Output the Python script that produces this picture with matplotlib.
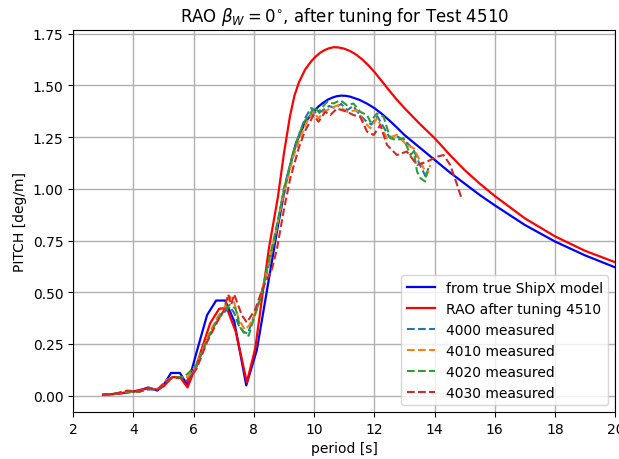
import matplotlib
matplotlib.use("Agg")
import matplotlib.pyplot as plt

# ShipX model RAO (pitch) vs period
shipx_T = [3.0, 3.5, 4.0, 4.3, 4.5, 4.8, 5.0, 5.25, 5.55, 5.8, 6.1, 6.45, 6.75, 7.05,
           7.35, 7.75, 8.1, 8.45, 8.8, 9.1, 9.4, 9.7, 10.0, 10.15, 10.3, 10.45,
           10.6, 10.75, 10.9, 11.05, 11.2, 11.5, 11.75, 12.0, 12.25, 12.5, 12.75,
           13.0, 13.5, 14.0, 14.5, 15.0, 15.5, 16.0, 17.0, 18.0, 19.0, 20.0]
shipx = [0.005, 0.01, 0.02, 0.03, 0.04, 0.025, 0.05, 0.11, 0.11, 0.05, 0.21, 0.39,
         0.46, 0.46, 0.36, 0.05, 0.22, 0.52, 0.82, 1.05, 1.22, 1.32, 1.375, 1.398,
         1.415, 1.43, 1.44, 1.447, 1.45, 1.449, 1.445, 1.43, 1.412, 1.39, 1.362,
         1.33, 1.296, 1.26, 1.20, 1.14, 1.08, 1.025, 0.97, 0.92, 0.825, 0.745,
         0.678, 0.62]

# RAO after tuning
rao_T = [3.0, 3.5, 4.0, 4.3, 4.5, 4.8, 5.0, 5.3, 5.55, 5.8, 6.1, 6.55, 6.85, 7.1,
         7.4, 7.77, 8.05, 8.3, 8.5, 8.8, 9.0, 9.2, 9.35, 9.5, 9.7, 9.9, 10.05,
         10.2, 10.35, 10.5, 10.65, 10.8, 11.0, 11.2, 11.4, 11.6, 11.8, 12.0, 12.25,
         12.5, 12.75, 13.0, 13.5, 14.0, 14.5, 15.0, 15.5, 16.0, 17.0, 18.0, 19.0,
         20.0]
rao = [0.005, 0.01, 0.02, 0.03, 0.035, 0.03, 0.045, 0.09, 0.09, 0.04, 0.15, 0.35,
       0.42, 0.425, 0.31, 0.065, 0.23, 0.50, 0.71, 0.96, 1.17, 1.35, 1.45, 1.515,
       1.575, 1.615, 1.638, 1.657, 1.67, 1.679, 1.684, 1.683, 1.677, 1.665, 1.648,
       1.625, 1.597, 1.565, 1.52, 1.474, 1.43, 1.39, 1.315, 1.245, 1.165, 1.09,
       1.025, 0.965, 0.857, 0.77, 0.70, 0.645]

# measured tests
m4000_T = [3.0, 3.4, 3.8, 4.2, 4.5, 4.8, 5.1, 5.3, 5.6, 5.8, 6.1, 6.45, 6.8, 7.0,
           7.2, 7.35, 7.5, 7.65, 7.8, 7.95, 8.2, 8.45, 8.7, 9.0, 9.3, 9.5, 9.7,
           9.9, 10.1, 10.3, 10.5, 10.7, 10.9, 11.1, 11.3, 11.5, 11.7, 11.9, 12.1,
           12.3, 12.5, 12.8, 13.1, 13.3, 13.5, 13.7, 13.8]
m4000 = [0.005, 0.01, 0.02, 0.02, 0.03, 0.03, 0.07, 0.085, 0.085, 0.08, 0.14, 0.27,
         0.37, 0.40, 0.43, 0.40, 0.34, 0.31, 0.30, 0.36, 0.46, 0.60, 0.76, 1.00,
         1.17, 1.26, 1.34, 1.39, 1.36, 1.38, 1.40, 1.39, 1.41, 1.38, 1.40, 1.36,
         1.33, 1.31, 1.35, 1.30, 1.25, 1.25, 1.22, 1.19, 1.12, 1.06, 1.10]

m4010_T = [3.0, 3.4, 3.8, 4.2, 4.5, 4.8, 5.1, 5.3, 5.6, 5.8, 6.1, 6.45, 6.8, 7.0,
           7.2, 7.35, 7.5, 7.7, 7.85, 8.0, 8.2, 8.45, 8.7, 9.0, 9.3, 9.55, 9.75,
           9.98, 10.15, 10.32, 10.54, 10.8, 11.09, 11.42, 11.65, 11.87, 12.09,
           12.42, 12.75, 13.08, 13.31, 13.53, 13.75, 13.86]
m4010 = [0.005, 0.01, 0.02, 0.02, 0.035, 0.03, 0.075, 0.09, 0.09, 0.09, 0.15, 0.28,
         0.38, 0.42, 0.48, 0.45, 0.37, 0.32, 0.34, 0.38, 0.47, 0.61, 0.77, 0.98,
         1.15, 1.25, 1.32, 1.372, 1.34, 1.372, 1.388, 1.404, 1.372, 1.38, 1.324,
         1.292, 1.34, 1.244, 1.26, 1.212, 1.196, 1.131, 1.067, 1.115]

m4020_T = [3.0, 3.4, 3.8, 4.2, 4.5, 4.8, 5.1, 5.3, 5.6, 5.8, 6.1, 6.45, 6.8, 7.0,
           7.2, 7.4, 7.55, 7.7, 7.83, 7.95, 8.2, 8.45, 8.7, 8.9, 9.04, 9.32, 9.54,
           9.7, 9.87, 9.98, 10.15, 10.43, 10.65, 10.87, 11.09, 11.31, 11.53, 11.76,
           11.87, 12.09, 12.31, 12.53, 12.75, 12.97, 13.2, 13.31, 13.42, 13.53,
           13.69, 13.75]
m4020 = [0.005, 0.01, 0.02, 0.02, 0.035, 0.03, 0.07, 0.09, 0.09, 0.105, 0.15, 0.27,
         0.37, 0.41, 0.44, 0.42, 0.33, 0.30, 0.29, 0.35, 0.46, 0.62, 0.78, 0.92,
         1.02, 1.18, 1.276, 1.33, 1.356, 1.396, 1.372, 1.42, 1.412, 1.428, 1.404,
         1.412, 1.372, 1.356, 1.324, 1.364, 1.348, 1.244, 1.236, 1.244, 1.163,
         1.18, 1.083, 1.051, 1.035, 1.083]

m4030_T = [3.0, 3.4, 3.8, 4.2, 4.5, 4.8, 5.1, 5.3, 5.6, 5.8, 6.1, 6.45, 6.8, 7.0,
           7.15, 7.25, 7.35, 7.45, 7.6, 7.77, 8.05, 8.3, 8.6, 8.77, 9.0, 9.21, 9.5,
           9.7, 9.87, 9.98, 10.15, 10.37, 10.54, 10.76, 11.09, 11.31, 11.53, 11.76,
           11.98, 12.2, 12.42, 12.75, 13.08, 13.42, 13.75, 14.08, 14.3, 14.52,
           14.75, 14.91]
m4030 = [0.005, 0.01, 0.025, 0.02, 0.035, 0.03, 0.07, 0.09, 0.085, 0.07, 0.13, 0.26,
         0.36, 0.41, 0.49, 0.44, 0.49, 0.45, 0.39, 0.354, 0.418, 0.52, 0.61, 0.71,
         0.90, 1.05, 1.20, 1.28, 1.324, 1.356, 1.324, 1.372, 1.356, 1.388, 1.372,
         1.356, 1.348, 1.276, 1.26, 1.308, 1.212, 1.163, 1.18, 1.115, 1.131, 1.155,
         1.163, 1.115, 1.019, 0.947]

fig = plt.figure(figsize=(6.19, 4.6), dpi=100)
ax = fig.add_axes([0.118, 0.102, 0.876, 0.831])

ax.plot(shipx_T, shipx, color='b', lw=1.6, label='from true ShipX model')
ax.plot(rao_T, rao, color='r', lw=1.6, label='RAO after tuning 4510')
ax.plot(m4000_T, m4000, '--', color='C0', lw=1.5, label='4000 measured')
ax.plot(m4010_T, m4010, '--', color='C1', lw=1.5, label='4010 measured')
ax.plot(m4020_T, m4020, '--', color='C2', lw=1.5, label='4020 measured')
ax.plot(m4030_T, m4030, '--', color='C3', lw=1.5, label='4030 measured')

ax.set_xlim(2, 20)
ax.set_xticks(range(2, 21, 2))
ax.set_title(r"RAO $\beta_W = 0^{\circ}$, after tuning for Test 4510", fontsize=12)
ax.set_xlabel("period [s]")
ax.set_ylabel("PITCH [deg/m]")
ax.grid(True, color='#b0b0b0', lw=1.0)
ax.legend(loc='lower right', fontsize=10)

fig.savefig("out.png", dpi=100)
